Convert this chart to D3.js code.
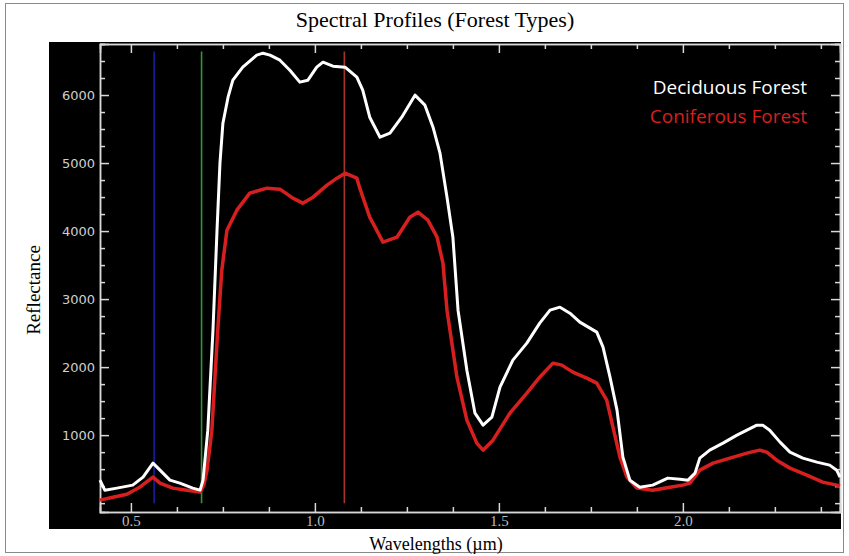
<!DOCTYPE html>
<html>
<head>
<meta charset="utf-8">
<script src="https://cdn.jsdelivr.net/npm/d3@7"></script>
<style>
  body { margin: 0; background: #fff; }
  svg { display: block; }
</style>
</head>
<body>
<div id="chart"></div>
<script>
// Spectral profile samples (wavelength in um, reflectance)
const deciduousWl = [0.416, 0.429, 0.462, 0.505, 0.533, 0.560, 0.579, 0.606, 0.633, 0.668, 0.688, 0.696,
  0.709, 0.723, 0.734, 0.742, 0.750, 0.764, 0.777, 0.804, 0.842, 0.859, 0.878, 0.905, 0.932, 0.959,
  0.981, 1.005, 1.022, 1.049, 1.082, 1.114, 1.130, 1.149, 1.177, 1.204, 1.236, 1.272, 1.299, 1.321,
  1.340, 1.359, 1.375, 1.389, 1.413, 1.435, 1.457, 1.481, 1.503, 1.538, 1.576, 1.611, 1.639, 1.666,
  1.693, 1.720, 1.766, 1.783, 1.802, 1.821, 1.837, 1.856, 1.883, 1.918, 1.959, 1.992, 2.014, 2.033,
  2.046, 2.073, 2.109, 2.147, 2.174, 2.201, 2.217, 2.236, 2.264, 2.291, 2.326, 2.364, 2.399, 2.418, 2.427];
const deciduousVal = [338, 191, 221, 265, 382, 588, 485, 338, 294, 221, 191, 338,
  1073, 2543, 4013, 4998, 5586, 5968, 6218, 6409, 6586, 6615, 6586, 6512, 6365, 6189,
  6218, 6409, 6483, 6424, 6409, 6262, 6071, 5674, 5380, 5439, 5674, 5998, 5851, 5527,
  5145, 4498, 3910, 2837, 1955, 1323, 1147, 1264, 1705, 2102, 2352, 2646, 2837, 2881,
  2793, 2661, 2514, 2293, 1852, 1367, 676, 338, 235, 265, 368, 353, 338, 441,
  662, 779, 882, 1000, 1073, 1147, 1147, 1073, 897, 750, 662, 603, 559, 485, 382];

const coniferousWl = [0.416, 0.451, 0.489, 0.524, 0.560, 0.579, 0.614, 0.652, 0.688, 0.698, 0.707,
  0.720, 0.736, 0.747, 0.761, 0.788, 0.823, 0.870, 0.905, 0.940, 0.967, 0.995, 1.033, 1.060, 1.082,
  1.114, 1.122, 1.149, 1.185, 1.223, 1.258, 1.280, 1.307, 1.332, 1.348, 1.359, 1.386, 1.413, 1.440,
  1.457, 1.484, 1.530, 1.576, 1.611, 1.647, 1.671, 1.701, 1.739, 1.766, 1.793, 1.810, 1.829, 1.848,
  1.875, 1.918, 1.965, 2.000, 2.019, 2.046, 2.082, 2.128, 2.174, 2.209, 2.228, 2.255, 2.291, 2.337,
  2.380, 2.418, 2.427];
const coniferousVal = [44, 88, 132, 235, 382, 294, 221, 191, 162, 265, 485,
  1073, 2543, 3425, 4013, 4307, 4557, 4631, 4616, 4484, 4410, 4498, 4675, 4778, 4851,
  4778, 4631, 4204, 3837, 3910, 4204, 4278, 4160, 3910, 3528, 2837, 1852, 1220, 882,
  779, 926, 1323, 1617, 1852, 2058, 2029, 1926, 1838, 1764, 1514, 1117, 676, 382,
  221, 191, 235, 265, 294, 485, 588, 662, 735, 779, 750, 632, 515, 412,
  309, 265, 250];

// Band marker lines (wavelength) and their colours
const bandWl = [0.563, 0.692, 1.08];
const bandColors = ["#1c1ca8", "#2f9a32", "#a8322c"];
const bandTop = 6640;

const seriesNames = ["Deciduous Forest", "Coniferous Forest"];
const seriesColors = ["#ffffff", "#d81f1f"];

const xMajor = [0.5, 1.0, 1.5, 2.0];
const xMinorStep = 0.125;
const yMajor = [1000, 2000, 3000, 4000, 5000, 6000];
const yMinorStep = 250;

const W = 849, H = 556;
const plot = { left: 100, right: 840, top: 44, bottom: 512 };

const svg = d3.select("#chart")
  .append("svg")
    .attr("width", W)
    .attr("height", H);

// outer frame
svg.append("rect")
  .attr("x", 5.5).attr("y", 3.5)
  .attr("width", 838).attr("height", 549)
  .attr("fill", "#fff")
  .attr("stroke", "#8a8a8a");

// black plot window
svg.append("rect")
  .attr("x", 49).attr("y", 42)
  .attr("width", 792).attr("height", 487)
  .attr("fill", "#000");

const xScale = d3.scaleLinear()
  .domain([0.416, 2.427])
  .range([plot.left, plot.right]);

const yScale = d3.scaleLinear()
  .domain([-130, 6750])
  .range([plot.bottom, plot.top]);

const axisColor = "#d8d8d8";

// minor tick values, skipping the majors
const xMinor = d3.range(0.5, 2.43, xMinorStep).filter(v => !xMajor.some(m => Math.abs(m - v) < 1e-6));
const yMinor = d3.range(0, 6751, yMinorStep).filter(v => !yMajor.includes(v));

// bottom axis (ticks pointing inward)
const xAxis = svg.append("g")
  .attr("transform", "translate(0," + plot.bottom + ")")
  .call(d3.axisBottom(xScale).tickValues(xMajor).tickSize(-9).tickPadding(3).tickFormat(d3.format(".1f")));
svg.append("g")
  .attr("transform", "translate(0," + plot.bottom + ")")
  .call(d3.axisBottom(xScale).tickValues(xMinor).tickSize(-5).tickFormat(""));

// top axis
svg.append("g")
  .attr("transform", "translate(0," + plot.top + ")")
  .call(d3.axisTop(xScale).tickValues(xMajor).tickSize(-9).tickFormat(""));
svg.append("g")
  .attr("transform", "translate(0," + plot.top + ")")
  .call(d3.axisTop(xScale).tickValues(xMinor).tickSize(-5).tickFormat(""));

// left axis
const yAxis = svg.append("g")
  .attr("transform", "translate(" + plot.left + ",0)")
  .call(d3.axisLeft(yScale).tickValues(yMajor).tickSize(-9).tickPadding(5).tickFormat(d3.format("d")));
svg.append("g")
  .attr("transform", "translate(" + plot.left + ",0)")
  .call(d3.axisLeft(yScale).tickValues(yMinor).tickSize(-5).tickFormat(""));

// right axis
svg.append("g")
  .attr("transform", "translate(" + plot.right + ",0)")
  .call(d3.axisRight(yScale).tickValues(yMajor).tickSize(-9).tickFormat(""));
svg.append("g")
  .attr("transform", "translate(" + plot.right + ",0)")
  .call(d3.axisRight(yScale).tickValues(yMinor).tickSize(-5).tickFormat(""));

svg.selectAll(".domain, .tick line")
  .attr("stroke", axisColor)
  .attr("stroke-width", 1.5);

xAxis.selectAll("text")
  .attr("fill", "#bdbdbd")
  .style("font-family", "'Liberation Serif', serif")
  .style("font-size", "15px");

yAxis.selectAll("text")
  .attr("fill", "#cfcfcf")
  .style("font-family", "'DejaVu Sans', sans-serif")
  .style("font-size", "13px");

// band marker lines
bandWl.forEach((w, i) => {
  svg.append("line")
    .attr("x1", xScale(w)).attr("x2", xScale(w))
    .attr("y1", yScale(0)).attr("y2", yScale(bandTop))
    .attr("stroke", bandColors[i])
    .attr("stroke-width", 1.6);
});

// profile lines
const line = d3.line()
  .x(d => xScale(d[0]))
  .y(d => yScale(d[1]));

const series = [
  d3.zip(deciduousWl, deciduousVal),
  d3.zip(coniferousWl, coniferousVal)
];

// coniferous first so the white line sits on top
[1, 0].forEach(i => {
  svg.append("path")
    .attr("d", line(series[i]))
    .attr("fill", "none")
    .attr("stroke", seriesColors[i])
    .attr("stroke-width", i === 0 ? 3 : 3.5)
    .attr("stroke-linejoin", "round");
});

// legend
seriesNames.forEach((name, i) => {
  svg.append("text")
    .attr("x", 807)
    .attr("y", 94 + i * 29)
    .attr("text-anchor", "end")
    .attr("fill", seriesColors[i])
    .style("font-family", "'Open Sans', sans-serif")
    .style("font-size", "19px")
    .text(name);
});

// titles
svg.append("text")
  .attr("x", 435)
  .attr("y", 27)
  .attr("text-anchor", "middle")
  .style("font-family", "'Liberation Serif', serif")
  .style("font-size", "22px")
  .text("Spectral Profiles (Forest Types)");

svg.append("text")
  .attr("x", 436)
  .attr("y", 550)
  .attr("text-anchor", "middle")
  .style("font-family", "'Liberation Serif', serif")
  .style("font-size", "18px")
  .text("Wavelengths (\u00b5m)");

svg.append("text")
  .attr("transform", "translate(40,290) rotate(-90)")
  .attr("text-anchor", "middle")
  .style("font-family", "'Liberation Serif', serif")
  .style("font-size", "19px")
  .text("Reflectance");
</script>
</body>
</html>
